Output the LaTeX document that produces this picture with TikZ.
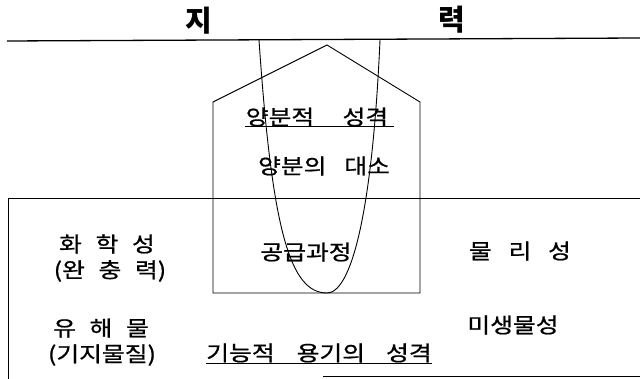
\documentclass[tikz,border=0pt]{standalone}
\usepackage{fontspec}
\newfontfamily\cjk{Noto Sans CJK KR}
\newfontfamily\cjkwide[FakeStretch=1.18,FakeBold=0.8]{Noto Sans CJK KR}
\usetikzlibrary{calc}

\begin{document}
\begin{tikzpicture}
	[
		x=1pt, y=-1pt,
		line width=0.9pt,
		lbl/.style = {font=\cjkwide\fontsize{21}{21}\selectfont, inner sep=0pt, anchor=center},
		ttl/.style = {font=\cjk\bfseries\fontsize{29}{29}\selectfont, inner sep=0pt, anchor=center}
	]
	
	\useasboundingbox (0,0) rectangle (640,379);
	
	\def\gap{\hspace{0.65em}}
	
	% title and rule
	\node [ttl] (ji) at (199,21) {지};
	\node [ttl] (ryeok) at (452,20) {력};
	\draw [line width=1.3pt] (7,41) -- (640,38);
	
	% big box
	\draw (640,198) -- (8,198) -- (8,379);
	\draw (323,376) -- (640,376);
	
	% house
	\draw (213,293) -- (213,102) -- (327,45) -- (420,102) -- (420,293) -- cycle;
	
	% curve
	\draw (259,40) .. controls (272,230) and (290,293) .. (327,293)
		.. controls (350,293) and (372,220) .. (380,40);
	
	\node [lbl] (yb) at (317,117) {양분적\hspace{1.35em}성격};
	\draw (yb.south west) -- ([xshift=5pt]yb.south east);
	\node [lbl] (ds) at (324,166) {양분의\hspace{0.85em}대소};
	
	\node [lbl] (hh) at (107,244) {화\gap 학\gap 성};
	\node [lbl] (wc) at (110,271) {(완\gap 충\gap 력)};
	\node [lbl] (gg) at (306,252) {공급과정};
	\node [lbl] (mr) at (520,251) {물\hspace{0.8em}리\hspace{0.8em}성};
	
	\node [lbl] (yh) at (101,328) {유\gap 해\gap 물};
	\node [lbl] (gj) at (102,355) {(기지물질)};
	\node [lbl] (ms) at (513,325) {미생물성};
	\node [lbl] (gn) at (319,353) {기능적\hspace{1.05em}용기의\hspace{1em}성격};
	\draw (gn.south west) -- (gn.south east);
	
\end{tikzpicture}
\end{document}
